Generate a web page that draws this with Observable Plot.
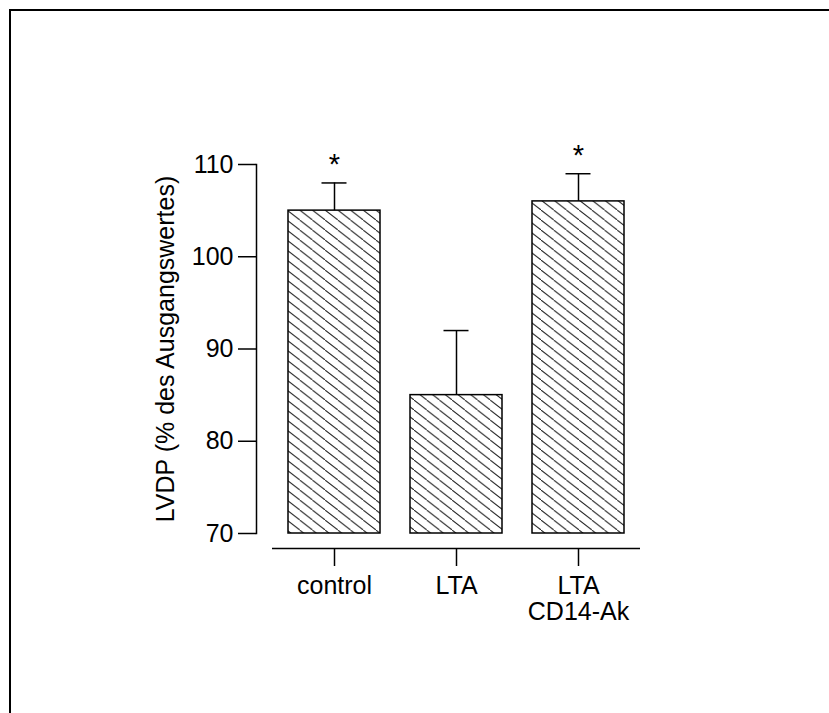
<!DOCTYPE html>
<html><head><meta charset="utf-8">
<script src="https://cdn.jsdelivr.net/npm/d3@7"></script>
<script src="https://cdn.jsdelivr.net/npm/@observablehq/plot@0.6"></script>
<style>
html,body{margin:0;padding:0;background:#fff;}
#wrap{position:relative;width:829px;height:713px;overflow:hidden;}
#border{position:absolute;left:9px;top:9px;width:900px;height:800px;border-left:2px solid #000;border-top:2px solid #000;}
#wrap svg{position:absolute;left:0;top:0;}
</style></head>
<body><div id="wrap"><div id="border"></div></div>
<script>
const categories = ["control", "LTA", "LTA CD14-Ak"];
const tickLabels = ["control", "LTA", "LTA\nCD14-Ak"];
const means = [105, 85, 106];
const errors = [3, 7, 3];
const significant = [true, false, true];
const yTicks = [70, 80, 90, 100, 110];
const yLabel = "LVDP (% des Ausgangswertes)";

const data = categories.map((c, i) => ({cat: c, mean: means[i], top: means[i] + errors[i], sig: significant[i]}));
const labelOf = Object.fromEntries(categories.map((c, i) => [c, tickLabels[i]]));

const font = "'Liberation Sans', Arial, Helvetica, sans-serif";
const chart = Plot.plot({
  width: 829,
  height: 713,
  marginLeft: 272,
  marginRight: 189,
  marginTop: 164,
  marginBottom: 180,
  style: {fontFamily: font, fontSize: "25px", color: "#000", background: "transparent", overflow: "visible"},
  x: {domain: categories, paddingInner: 0.242, paddingOuter: 0.121, axis: null},
  y: {domain: [70, 110], axis: null},
  marks: [
    Plot.barY(data, {x: "cat", y1: 70, y2: "mean", fill: "url(#hatch)", stroke: "#000", strokeWidth: 1.5}),
    Plot.ruleX(data, {x: "cat", y1: "mean", y2: "top", stroke: "#000", strokeWidth: 1.5}),
    Plot.tickY(data, {x: "cat", y: "top", insetLeft: 33.5, insetRight: 33.5, stroke: "#000", strokeWidth: 1.5}),
    Plot.text(data.filter(d => d.sig), {x: "cat", y: "top", text: () => "*", dy: -18.4, fontSize: 29, fill: "#000"}),
    Plot.frame({anchor: "left", dx: -16, stroke: "#000", strokeWidth: 1.5}),
    Plot.axisY({ticks: yTicks, tickSize: 18, tickPadding: 5, dx: -16, fontSize: 25, strokeWidth: 1.5, label: null, fill: "#000"}),
    Plot.ruleY([70], {dy: 15, stroke: "#000", strokeWidth: 1.5}),
    Plot.axisX({tickSize: 18, tickPadding: 9, dy: 15, fontSize: 25, lineHeight: 1.04, strokeWidth: 1.5, label: null, fill: "#000", tickFormat: d => labelOf[d]}),
    Plot.text([yLabel], {frameAnchor: "left", textAnchor: "middle", rotate: -90, dx: -107, fontSize: 25, fill: "#000"})
  ]
});

const ns = "http://www.w3.org/2000/svg";
const defs = document.createElementNS(ns, "defs");
const pat = document.createElementNS(ns, "pattern");
pat.setAttribute("id", "hatch");
pat.setAttribute("patternUnits", "userSpaceOnUse");
pat.setAttribute("width", "12.7");
pat.setAttribute("height", "10");
pat.setAttribute("x", "287");
pat.setAttribute("y", "0");
const bg = document.createElementNS(ns, "rect");
bg.setAttribute("width", "12.7"); bg.setAttribute("height", "10"); bg.setAttribute("fill", "#fff");
pat.appendChild(bg);
const ln = document.createElementNS(ns, "path");
ln.setAttribute("d", "M-1.27,-1 L13.97,11 M-13.97,-11 L1.27,1 M11.43,9 L26.67,21");
ln.setAttribute("stroke", "#222");
ln.setAttribute("stroke-width", "1");
pat.appendChild(ln);
defs.appendChild(pat);
chart.insertBefore(defs, chart.firstChild);
document.getElementById("wrap").appendChild(chart);
</script>
</body></html>
